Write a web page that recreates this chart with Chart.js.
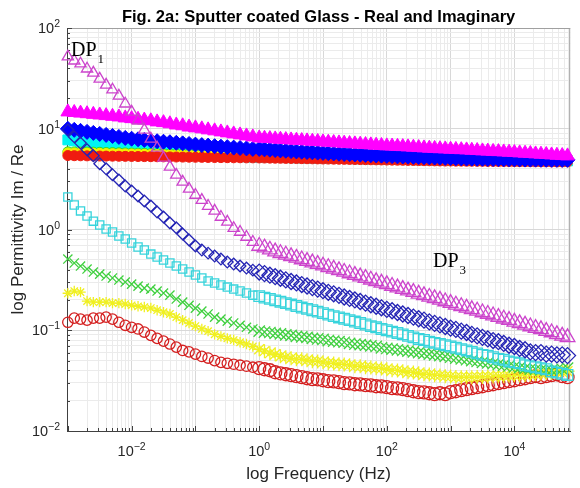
<!DOCTYPE html>
<html>
<head>
<meta charset="utf-8">
<title>Fig. 2a</title>
<script src="https://cdn.jsdelivr.net/npm/chart.js@4.4.1/dist/chart.umd.min.js"></script>
<style>
  html, body { margin: 0; padding: 0; background: #fff; }
  canvas { display: block; }
</style>
</head>
<body>
<canvas id="grafico" width="580" height="488"></canvas>
<script>
// --- Dados ---
// frequencias (Hz): 10 pontos/decada abaixo de 1 Hz, 12 pontos/decada acima
const freq = [
  0.001, 0.00126, 0.00158, 0.002, 0.00251, 0.00316, 0.00398, 0.00501, 0.00631, 0.00794,
  0.01, 0.0126, 0.0158, 0.02, 0.0251, 0.0316, 0.0398, 0.0501, 0.0631, 0.0794,
  0.1, 0.126, 0.158, 0.2, 0.251, 0.316, 0.398, 0.501, 0.631, 0.794,
  1, 1.21, 1.47, 1.78, 2.15, 2.61, 3.16, 3.83, 4.64, 5.62, 6.81, 8.25,
  10, 12.1, 14.7, 17.8, 21.5, 26.1, 31.6, 38.3, 46.4, 56.2, 68.1, 82.5,
  100, 121, 147, 178, 215, 261, 316, 383, 464, 562, 681, 825,
  1000, 1210, 1470, 1780, 2150, 2610, 3160, 3830, 4640, 5620, 6810, 8250,
  10000, 12100, 14700, 17800, 21500, 26100, 31600, 38300, 46400, 56200, 68100
];

// parte real (marcadores cheios)
const reMagenta = [
  14.7, 14.5, 14.3, 14.1, 13.9, 13.7, 13.5, 13.3, 13.1, 12.8, 12.6, 12.4, 12.2, 12.0, 11.7,
  11.5, 11.2, 10.9, 10.7, 10.4, 10.2, 9.98, 9.75, 9.53, 9.31, 9.10, 8.89, 8.69, 8.49, 8.30,
  8.11, 8.05, 7.99, 7.93, 7.87, 7.81, 7.75, 7.69, 7.64, 7.58, 7.52, 7.47, 7.41, 7.36, 7.30,
  7.24, 7.19, 7.13, 7.08, 7.03, 6.97, 6.92, 6.87, 6.82, 6.76, 6.73, 6.69, 6.65, 6.61, 6.56,
  6.51, 6.46, 6.42, 6.38, 6.34, 6.31, 6.27, 6.24, 6.20, 6.17, 6.12, 6.08, 6.03, 6.00, 5.96,
  5.93, 5.89, 5.85, 5.81, 5.76, 5.72, 5.68, 5.63, 5.59, 5.55, 5.50, 5.46, 5.42, 5.38
];
const reBlue = [
  9.98, 9.75, 9.53, 9.31, 9.10, 8.89, 8.69, 8.49, 8.30, 8.11, 7.96, 7.86, 7.75, 7.62, 7.52,
  7.43, 7.34, 7.25, 7.16, 7.06, 6.96, 6.88, 6.80, 6.72, 6.64, 6.57, 6.50, 6.44, 6.38, 6.31,
  6.31, 6.25, 6.20, 6.15, 6.10, 6.05, 6.00, 5.96, 5.92, 5.88, 5.84, 5.80, 5.76, 5.72, 5.68,
  5.65, 5.62, 5.59, 5.56, 5.53, 5.50, 5.47, 5.44, 5.41, 5.38, 5.35, 5.32, 5.30, 5.28, 5.26,
  5.24, 5.22, 5.20, 5.18, 5.16, 5.14, 5.12, 5.10, 5.08, 5.06, 5.05, 5.04, 5.03, 5.02, 5.01,
  5.00, 4.99, 4.98, 4.97, 4.96, 4.95, 4.94, 4.94, 4.93, 4.93, 4.92, 4.92, 4.91, 4.91
];
const reCyan = [
  7.75, 7.58, 7.41, 7.24, 7.08, 6.92, 6.76, 6.61, 6.55, 6.46, 6.31, 6.25, 6.17, 6.03, 5.98,
  5.89, 5.84, 5.76, 5.70, 5.63, 5.58, 5.50, 5.47, 5.44, 5.38, 5.35, 5.32, 5.30, 5.26, 5.24,
  5.22, 5.21, 5.20, 5.19, 5.18, 5.17, 5.16, 5.15, 5.14, 5.13, 5.12, 5.11, 5.10, 5.09, 5.08,
  5.07, 5.06, 5.05, 5.04, 5.03, 5.02, 5.01, 5.00, 4.99, 4.98, 4.97, 4.96, 4.95, 4.94, 4.93,
  4.92, 4.91, 4.90, 4.90, 4.89, 4.89, 4.88, 4.88, 4.87, 4.87, 4.86, 4.86, 4.85, 4.85, 4.84,
  4.84, 4.83, 4.83, 4.82, 4.82, 4.81, 4.81, 4.80, 4.80, 4.80, 4.79, 4.79, 4.79, 4.79
];
const reGreen = [
  5.90, 5.89, 5.88, 5.87, 5.86, 5.84, 5.82, 5.80, 5.78, 5.76, 5.74, 5.72, 5.70, 5.68, 5.66,
  5.64, 5.62, 5.61, 5.60, 5.59, 5.58, 5.57, 5.56, 5.55, 5.54, 5.53, 5.52, 5.52, 5.51, 5.50,
  5.50, 5.49, 5.48, 5.47, 5.46, 5.45, 5.44, 5.43, 5.42, 5.41, 5.40, 5.39, 5.38, 5.37, 5.36,
  5.35, 5.34, 5.33, 5.32, 5.31, 5.30, 5.29, 5.28, 5.27, 5.26, 5.26, 5.25, 5.25, 5.24, 5.24,
  5.23, 5.23, 5.22, 5.22, 5.21, 5.21, 5.20, 5.20, 5.19, 5.19, 5.18, 5.18, 5.17, 5.17, 5.16,
  5.16, 5.16, 5.15, 5.15, 5.15, 5.15, 5.14, 5.14, 5.14, 5.14, 5.14, 5.13, 5.13, 5.13
];
const reYellow = [
  5.76, 5.75, 5.74, 5.73, 5.72, 5.70, 5.68, 5.66, 5.64, 5.63, 5.61, 5.59, 5.57, 5.55, 5.53,
  5.51, 5.50, 5.49, 5.48, 5.47, 5.46, 5.45, 5.44, 5.43, 5.42, 5.41, 5.40, 5.39, 5.38, 5.38,
  5.37, 5.36, 5.35, 5.34, 5.33, 5.32, 5.31, 5.30, 5.29, 5.28, 5.27, 5.26, 5.25, 5.24, 5.23,
  5.22, 5.21, 5.20, 5.19, 5.18, 5.17, 5.16, 5.15, 5.14, 5.13, 5.13, 5.12, 5.12, 5.11, 5.11,
  5.10, 5.10, 5.09, 5.09, 5.08, 5.08, 5.07, 5.07, 5.06, 5.06, 5.05, 5.05, 5.04, 5.04, 5.03,
  5.03, 5.03, 5.02, 5.02, 5.02, 5.02, 5.01, 5.01, 5.01, 5.01, 5.01, 5.00, 5.00, 5.00
];
const reRed = [
  5.42, 5.40, 5.39, 5.38, 5.37, 5.36, 5.35, 5.34, 5.33, 5.32, 5.31, 5.30, 5.29, 5.28, 5.27,
  5.26, 5.25, 5.24, 5.23, 5.22, 5.21, 5.20, 5.19, 5.18, 5.17, 5.16, 5.15, 5.15, 5.14, 5.14,
  5.13, 5.12, 5.11, 5.10, 5.09, 5.08, 5.07, 5.06, 5.05, 5.04, 5.03, 5.02, 5.01, 5.00, 4.99,
  4.98, 4.97, 4.96, 4.95, 4.94, 4.93, 4.92, 4.91, 4.90, 4.89, 4.88, 4.87, 4.86, 4.85, 4.84,
  4.83, 4.82, 4.81, 4.80, 4.79, 4.78, 4.78, 4.77, 4.77, 4.76, 4.76, 4.75, 4.75, 4.74, 4.74,
  4.73, 4.73, 4.72, 4.72, 4.71, 4.71, 4.71, 4.70, 4.70, 4.70, 4.69, 4.69, 4.69, 4.69
];

// parte imaginaria (marcadores vazios)
const imMagenta = [
  51.9, 47.3, 44.2, 39.4, 35.9, 31.3, 27.3, 24.4, 21.2, 17.7, 14.7, 12.0, 9.75, 7.94, 6.46,
  5.14, 4.18, 3.48, 2.97, 2.53, 2.20, 1.96, 1.71, 1.53, 1.33, 1.19, 1.03, 0.944, 0.842, 0.751,
  0.686, 0.660, 0.630, 0.603, 0.581, 0.561, 0.541, 0.522, 0.504, 0.486, 0.469, 0.453, 0.437, 0.422, 0.407,
  0.393, 0.379, 0.366, 0.353, 0.341, 0.329, 0.317, 0.306, 0.295, 0.285, 0.275, 0.265, 0.256, 0.247, 0.239,
  0.230, 0.222, 0.214, 0.207, 0.200, 0.193, 0.186, 0.179, 0.173, 0.167, 0.161, 0.156, 0.150, 0.145, 0.140,
  0.135, 0.130, 0.126, 0.121, 0.117, 0.113, 0.109, 0.105, 0.102, 0.098, 0.095, 0.091, 0.088, 0.085
];
const imBlue = [
  9.75, 8.3, 7.2, 6.2, 5.4, 4.5, 4.0, 3.5, 3.1, 2.7, 2.41, 2.15, 1.92, 1.71, 1.49,
  1.33, 1.16, 1.04, 0.902, 0.787, 0.686, 0.625, 0.583, 0.545, 0.509, 0.475, 0.454, 0.434, 0.414, 0.395,
  0.378, 0.365, 0.352, 0.340, 0.328, 0.316, 0.305, 0.295, 0.284, 0.275, 0.265, 0.256, 0.247, 0.238, 0.230,
  0.222, 0.214, 0.207, 0.200, 0.193, 0.186, 0.179, 0.173, 0.167, 0.161, 0.156, 0.150, 0.145, 0.140, 0.135,
  0.130, 0.126, 0.121, 0.117, 0.113, 0.109, 0.105, 0.102, 0.098, 0.095, 0.091, 0.088, 0.085, 0.082, 0.079,
  0.077, 0.074, 0.071, 0.069, 0.066, 0.064, 0.061, 0.060, 0.060, 0.058, 0.058, 0.057, 0.057, 0.056
];
const imCyan = [
  2.10, 1.75, 1.53, 1.36, 1.21, 1.11, 1.01, 0.944, 0.861, 0.805, 0.734, 0.670, 0.625, 0.570, 0.533,
  0.498, 0.465, 0.434, 0.405, 0.378, 0.353, 0.330, 0.308, 0.294, 0.281, 0.268, 0.256, 0.245, 0.234, 0.223,
  0.218, 0.211, 0.205, 0.198, 0.192, 0.186, 0.180, 0.174, 0.168, 0.163, 0.158, 0.153, 0.148, 0.143, 0.138,
  0.134, 0.130, 0.126, 0.122, 0.118, 0.114, 0.110, 0.107, 0.103, 0.100, 0.097, 0.094, 0.091, 0.088, 0.085,
  0.082, 0.080, 0.077, 0.075, 0.073, 0.071, 0.069, 0.067, 0.065, 0.063, 0.061, 0.059, 0.057, 0.056, 0.054,
  0.052, 0.051, 0.049, 0.048, 0.047, 0.045, 0.044, 0.043, 0.042, 0.041, 0.039, 0.038, 0.037, 0.036
];
const imGreen = [
  0.509, 0.465, 0.434, 0.405, 0.378, 0.361, 0.345, 0.330, 0.315, 0.301, 0.287, 0.274, 0.262, 0.256, 0.245,
  0.234, 0.223, 0.204, 0.190, 0.177, 0.166, 0.155, 0.145, 0.135, 0.129, 0.123, 0.118, 0.112, 0.107, 0.103,
  0.098, 0.096, 0.095, 0.093, 0.092, 0.090, 0.089, 0.087, 0.086, 0.085, 0.083, 0.082, 0.081, 0.079, 0.078,
  0.077, 0.076, 0.074, 0.073, 0.072, 0.071, 0.070, 0.069, 0.067, 0.066, 0.065, 0.064, 0.063, 0.062, 0.061,
  0.060, 0.059, 0.058, 0.057, 0.056, 0.055, 0.054, 0.053, 0.052, 0.051, 0.050, 0.049, 0.048, 0.0475, 0.0467,
  0.0458, 0.045, 0.0442, 0.0434, 0.0426, 0.0418, 0.0412, 0.0408, 0.0405, 0.0402, 0.040, 0.0405, 0.041, 0.042
];
const imYellow = [
  0.233, 0.245, 0.239, 0.195, 0.190, 0.190, 0.190, 0.186, 0.186, 0.182, 0.177, 0.173, 0.170, 0.166, 0.158,
  0.151, 0.145, 0.135, 0.126, 0.118, 0.110, 0.103, 0.098, 0.091, 0.087, 0.083, 0.080, 0.076, 0.073, 0.069,
  0.0648, 0.0620, 0.0592, 0.0578, 0.0552, 0.0540, 0.0527, 0.0516, 0.0514, 0.0504, 0.0493, 0.0490, 0.0482, 0.0471, 0.0469,
  0.0460, 0.0458, 0.0450, 0.0440, 0.0438, 0.0430, 0.0428, 0.0420, 0.0418, 0.0410, 0.0401, 0.0399, 0.0392, 0.0383, 0.0381,
  0.0374, 0.0366, 0.0364, 0.0358, 0.0356, 0.0350, 0.0348, 0.0343, 0.0342, 0.0341, 0.0342, 0.0343, 0.0344, 0.0346, 0.0348,
  0.0350, 0.0351, 0.0355, 0.0357, 0.0358, 0.0360, 0.0364, 0.0366, 0.0372, 0.0374, 0.0376, 0.0381, 0.0384, 0.0392
];
const imRed = [
  0.120, 0.132, 0.129, 0.126, 0.132, 0.132, 0.135, 0.129, 0.120, 0.112, 0.107, 0.103, 0.096, 0.089, 0.083,
  0.078, 0.073, 0.068, 0.063, 0.061, 0.058, 0.055, 0.053, 0.050, 0.048, 0.047, 0.046, 0.045, 0.044, 0.043,
  0.0420, 0.0410, 0.0401, 0.0383, 0.0374, 0.0366, 0.0358, 0.0350, 0.0342, 0.0334, 0.0327, 0.0326, 0.0319, 0.0312, 0.0311,
  0.0305, 0.0298, 0.0297, 0.0291, 0.0290, 0.0285, 0.0284, 0.0278, 0.0277, 0.0272, 0.0266, 0.0265, 0.0260, 0.0254, 0.0248,
  0.0243, 0.0242, 0.0237, 0.0232, 0.0237, 0.0232, 0.0243, 0.0248, 0.0254, 0.0260, 0.0266, 0.0272, 0.0278, 0.0285, 0.0291,
  0.0298, 0.0305, 0.0312, 0.0319, 0.0327, 0.0334, 0.0342, 0.0350, 0.0342, 0.0350, 0.0358, 0.0366, 0.0350, 0.0342
];

// rotulos dos eixos (decadas rotuladas)
const xTicks = [0.01, 1, 100, 10000];
const xTickExp = ['\u22122', '0', '2', '4'];
const yTicks = [0.01, 0.1, 1, 10, 100];
const yTickExp = ['\u22122', '\u22121', '0', '1', '2'];

const titulo = 'Fig. 2a: Sputter coated Glass - Real and Imaginary';
const tituloX = 'log Frequency (Hz)';
const tituloY = 'log Permittivity Im / Re';

// --- Limites dos eixos ---
const xMin = 0.00097, xMax = 75000;
const yMin = 0.01, yMax = 100;

// --- Series (da camada de baixo para a de cima) ---
// raioAlto: tamanho do marcador acima de 1 Hz, onde a varredura fica densa
const series = [
  { valores: reCyan,    estilo: 'rect',     cor: '#00f4f4', cheio: true,  raio: 7,   raioAlto: 7 },
  { valores: reGreen,   estilo: 'circle',   cor: '#30e030', cheio: true,  raio: 5,   raioAlto: 5 },
  { valores: reYellow,  estilo: 'circle',   cor: '#f4f000', cheio: true,  raio: 5,   raioAlto: 5 },
  { valores: reRed,     estilo: 'circle',   cor: '#f01c10', cheio: true,  raio: 5,   raioAlto: 5 },
  { valores: reBlue,    estilo: 'rectRot',  cor: '#0000ff', cheio: true,  raio: 7.5, raioAlto: 7.5 },
  { valores: reMagenta, estilo: 'triangle', cor: '#ff00ff', cheio: true,  raio: 8,   raioAlto: 8 },
  { valores: imRed,     estilo: 'circle',   cor: '#d42020', cheio: false, raio: 5.2, raioAlto: 6.5 },
  { valores: imYellow,  estilo: 'star',     cor: '#f0f020', cheio: false, raio: 5.2, raioAlto: 7 },
  { valores: imGreen,   estilo: 'crossRot', cor: '#40d040', cheio: false, raio: 6.5, raioAlto: 8 },
  { valores: imCyan,    estilo: 'rect',     cor: '#38d4dc', cheio: false, raio: 5.8, raioAlto: 7.5 },
  { valores: imBlue,    estilo: 'rectRot',  cor: '#2424b4', cheio: false, raio: 5.8, raioAlto: 8 },
  { valores: imMagenta, estilo: 'triangle', cor: '#cc44cc', cheio: false, raio: 6.5, raioAlto: 8.5 }
];

// --- Utilitarios ---
const ehDecada = (v) => Math.abs(Math.log10(v) - Math.round(Math.log10(v))) < 1e-6;

const linhasGrade = (min, max) => {
  const lista = [];
  for (let e = -4; e <= 5; e++) {
    for (let s = 1; s <= 9; s++) {
      const v = s * Math.pow(10, e);
      if (v >= min * 0.9999 && v <= max * 1.0001) lista.push(v);
    }
  }
  return lista;
};
const gradeX = linhasGrade(xMin, xMax);
const gradeY = linhasGrade(yMin, yMax);

const corGrade = (ctx) => (ctx.tick && ehDecada(ctx.tick.value)) ? '#d8d8d8' : '#ebebeb';

const fonteSans = '"Liberation Sans", Arial, Helvetica, sans-serif';
const fonteSerif = '"Liberation Serif", "Times New Roman", serif';

// desenha "10" com expoente sobrescrito
const potencia = (ctx, exp, x, y, alinhar) => {
  ctx.font = '14.5px ' + fonteSans;
  const w1 = ctx.measureText('10').width;
  ctx.font = '10.5px ' + fonteSans;
  const w2 = ctx.measureText(exp).width;
  const x0 = alinhar === 'center' ? x - (w1 + w2) / 2 : x - (w1 + w2);
  ctx.font = '14.5px ' + fonteSans;
  ctx.fillText('10', x0, y);
  ctx.font = '10.5px ' + fonteSans;
  ctx.fillText(exp, x0 + w1, y - 6);
};

// texto com indice subscrito (DP1, DP3)
const comIndice = (ctx, base, indice, x, y) => {
  ctx.font = '20px ' + fonteSerif;
  ctx.fillText(base, x, y);
  const w = ctx.measureText(base).width;
  ctx.font = '13px ' + fonteSerif;
  ctx.fillText(indice, x + w + 1, y + 7);
};

// --- Plugin: moldura, marcas internas e textos ---
const molduraTextos = {
  id: 'molduraTextos',
  beforeDatasetsDraw(chart) {
    const { ctx, chartArea: a, scales } = chart;
    ctx.save();
    ctx.lineWidth = 1;
    ctx.strokeStyle = '#a0a0a0';
    ctx.beginPath();
    ctx.moveTo(a.left, a.top + 0.5);
    ctx.lineTo(a.right, a.top + 0.5);
    ctx.moveTo(a.right - 0.5, a.top);
    ctx.lineTo(a.right - 0.5, a.bottom);
    ctx.stroke();

    ctx.strokeStyle = '#404040';
    ctx.beginPath();
    gradeX.forEach(v => {
      const px = Math.round(scales.x.getPixelForValue(v)) + 0.5;
      const len = ehDecada(v) ? 5 : 3;
      ctx.moveTo(px, a.bottom);
      ctx.lineTo(px, a.bottom - len);
    });
    gradeY.forEach(v => {
      const py = Math.round(scales.y.getPixelForValue(v)) + 0.5;
      const len = ehDecada(v) ? 5 : 3;
      ctx.moveTo(a.left, py);
      ctx.lineTo(a.left + len, py);
    });
    ctx.stroke();
    ctx.restore();
  },
  afterDraw(chart) {
    const { ctx, chartArea: a, scales } = chart;
    ctx.save();
    ctx.textAlign = 'left';
    ctx.textBaseline = 'alphabetic';
    ctx.fillStyle = '#262626';

    // rotulos dos ticks
    xTicks.forEach((v, i) => potencia(ctx, xTickExp[i], scales.x.getPixelForValue(v), 456, 'center'));
    yTicks.forEach((v, i) => potencia(ctx, yTickExp[i], 60, scales.y.getPixelForValue(v) + 5, 'right'));

    // titulos dos eixos
    const meioX = (a.left + a.right) / 2;
    const meioY = (a.top + a.bottom) / 2;
    ctx.textAlign = 'center';
    ctx.font = '17px ' + fonteSans;
    ctx.fillText(tituloX, meioX, 479);
    ctx.save();
    ctx.translate(23, meioY);
    ctx.rotate(-Math.PI / 2);
    ctx.fillText(tituloY, 0, 0);
    ctx.restore();

    // titulo
    ctx.fillStyle = '#000';
    ctx.font = 'bold 16.5px ' + fonteSans;
    ctx.fillText(titulo, meioX, 22);

    // anotacoes
    ctx.textAlign = 'left';
    comIndice(ctx, 'DP', '1', 71, 56);
    comIndice(ctx, 'DP', '3', 433, 267);
    ctx.restore();
  }
};

// --- Grafico ---
const datasets = series.map((s, i) => ({
  data: freq.map((f, k) => ({ x: f, y: s.valores[k] })),
  pointStyle: s.estilo,
  pointRadius: (c) => (c.raw && c.raw.x >= 1) ? s.raioAlto : s.raio,
  pointHoverRadius: (c) => (c.raw && c.raw.x >= 1) ? s.raioAlto : s.raio,
  borderColor: s.cor,
  backgroundColor: s.cheio ? s.cor : 'rgba(0,0,0,0)',
  borderWidth: s.cheio ? 1 : 1.3,
  showLine: false,
  clip: false,
  order: series.length - i
}));

new Chart(document.getElementById('grafico'), {
  type: 'scatter',
  data: { datasets },
  plugins: [molduraTextos],
  options: {
    responsive: false,
    animation: false,
    devicePixelRatio: 1,
    layout: { padding: { left: 0, right: 2, top: 28, bottom: 0 } },
    plugins: {
      legend: { display: false },
      title: { display: false },
      tooltip: { enabled: false }
    },
    events: [],
    scales: {
      x: {
        type: 'logarithmic',
        min: xMin,
        max: xMax,
        afterBuildTicks: (s) => { s.ticks = gradeX.map(v => ({ value: v })); },
        afterFit: (s) => { s.height = 57; },
        ticks: { display: false, autoSkip: false },
        grid: { color: corGrade, lineWidth: 1, drawTicks: false },
        border: { display: true, color: '#404040', width: 1 }
      },
      y: {
        type: 'logarithmic',
        min: yMin,
        max: yMax,
        afterBuildTicks: (s) => { s.ticks = gradeY.map(v => ({ value: v })); },
        afterFit: (s) => { s.width = 67; },
        ticks: { display: false, autoSkip: false },
        grid: { color: corGrade, lineWidth: 1, drawTicks: false },
        border: { display: true, color: '#404040', width: 1 }
      }
    }
  }
});
</script>
</body>
</html>
